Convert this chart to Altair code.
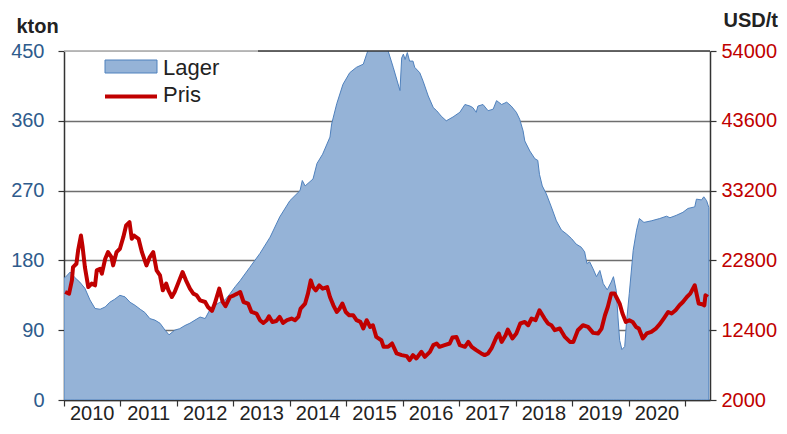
import altair as alt
import pandas as pd

FONT = "Liberation Sans"

# Lager (stock), kton
lager_year = [
    2010.00, 2010.02, 2010.11, 2010.19, 2010.28, 2010.37, 2010.46, 2010.55, 2010.64, 2010.73,
    2010.81, 2010.90, 2010.99, 2011.08, 2011.17, 2011.26, 2011.35, 2011.43, 2011.52, 2011.61,
    2011.70, 2011.79, 2011.86, 2011.96, 2012.05, 2012.14, 2012.23, 2012.32, 2012.41, 2012.50,
    2012.58, 2012.67, 2012.76, 2012.85, 2012.94, 2013.03, 2013.12, 2013.29, 2013.47, 2013.65,
    2013.82, 2014.00, 2014.18, 2014.22, 2014.27, 2014.41, 2014.48, 2014.58, 2014.71, 2014.74,
    2014.83, 2014.94, 2015.06, 2015.18, 2015.30, 2015.36, 2015.39, 2015.56, 2015.74, 2015.83,
    2015.95, 2015.98, 2016.01, 2016.04, 2016.08, 2016.12, 2016.18, 2016.21, 2016.30, 2016.36,
    2016.45, 2016.54, 2016.60, 2016.68, 2016.77, 2016.89, 2017.01, 2017.10, 2017.19, 2017.24,
    2017.30, 2017.33, 2017.42, 2017.51, 2017.60, 2017.66, 2017.75, 2017.84, 2017.92, 2018.01,
    2018.07, 2018.13, 2018.16, 2018.25, 2018.34, 2018.39, 2018.42, 2018.47, 2018.54, 2018.63,
    2018.72, 2018.81, 2018.90, 2018.99, 2019.07, 2019.16, 2019.22, 2019.26, 2019.31, 2019.37,
    2019.43, 2019.49, 2019.55, 2019.62, 2019.69, 2019.73, 2019.78, 2019.81, 2019.84, 2019.88,
    2019.93, 2019.96, 2020.01, 2020.08, 2020.14, 2020.19, 2020.27, 2020.40, 2020.55, 2020.67,
    2020.73, 2020.84, 2020.96, 2021.05, 2021.17, 2021.20, 2021.29, 2021.33, 2021.38, 2021.42,
]
lager_kton = [
    157, 158, 165, 158, 152, 144, 129, 118, 117, 120,
    126, 130, 135, 133, 126, 122, 117, 113, 105, 103,
    99, 90, 84, 90, 92, 96, 99, 103, 107, 105,
    116, 122, 126, 129, 137, 146, 154, 171, 189, 210,
    236, 257, 270, 283, 276, 285, 305, 317, 339, 356,
    382, 407, 422, 429, 433, 446, 452, 462, 450, 429,
    399, 441, 446, 439, 448, 437, 437, 429, 422, 411,
    392, 377, 373, 366, 360, 365, 371, 381, 379, 377,
    371, 379, 381, 373, 375, 386, 381, 384, 379, 371,
    362, 347, 334, 321, 311, 309, 291, 276, 266, 249,
    231, 219, 214, 208, 201, 197, 191, 176, 178, 169,
    159, 167, 150, 142, 152, 159, 141, 107, 77, 65,
    69, 99, 137, 193, 219, 234, 229, 231, 234, 237,
    235, 238, 242, 247, 249, 259, 258, 262, 257, 248,
]

# Pris (price), USD/t
pris_year = [
    2010.02, 2010.09, 2010.14, 2010.16, 2010.22, 2010.25, 2010.30, 2010.33, 2010.37, 2010.43,
    2010.49, 2010.55, 2010.58, 2010.64, 2010.67, 2010.73, 2010.78, 2010.84, 2010.87, 2010.93,
    2010.99, 2011.05, 2011.10, 2011.16, 2011.20, 2011.24, 2011.32, 2011.38, 2011.46, 2011.52,
    2011.58, 2011.64, 2011.70, 2011.75, 2011.81, 2011.85, 2011.91, 2011.96, 2012.02, 2012.10,
    2012.16, 2012.23, 2012.29, 2012.35, 2012.41, 2012.50, 2012.55, 2012.62, 2012.67, 2012.75,
    2012.81, 2012.86, 2012.94, 2013.01, 2013.07, 2013.12, 2013.18, 2013.26, 2013.32, 2013.41,
    2013.47, 2013.53, 2013.59, 2013.63, 2013.69, 2013.76, 2013.82, 2013.88, 2013.95, 2014.03,
    2014.09, 2014.15, 2014.19, 2014.27, 2014.32, 2014.37, 2014.41, 2014.46, 2014.52, 2014.58,
    2014.66, 2014.71, 2014.77, 2014.83, 2014.88, 2014.93, 2014.99, 2015.05, 2015.12, 2015.18,
    2015.25, 2015.30, 2015.36, 2015.42, 2015.47, 2015.53, 2015.62, 2015.66, 2015.74, 2015.81,
    2015.89, 2015.98, 2016.07, 2016.12, 2016.18, 2016.24, 2016.33, 2016.39, 2016.48, 2016.54,
    2016.60, 2016.65, 2016.74, 2016.83, 2016.88, 2016.95, 2017.01, 2017.10, 2017.16, 2017.22,
    2017.30, 2017.39, 2017.45, 2017.51, 2017.57, 2017.66, 2017.70, 2017.75, 2017.82, 2017.86,
    2017.94, 2018.01, 2018.08, 2018.16, 2018.22, 2018.28, 2018.35, 2018.42, 2018.51, 2018.57,
    2018.63, 2018.69, 2018.78, 2018.87, 2018.96, 2019.02, 2019.10, 2019.19, 2019.28, 2019.37,
    2019.46, 2019.52, 2019.58, 2019.63, 2019.69, 2019.75, 2019.78, 2019.84, 2019.89, 2019.95,
    2020.01, 2020.07, 2020.13, 2020.18, 2020.25, 2020.32, 2020.40, 2020.48, 2020.55, 2020.62,
    2020.70, 2020.76, 2020.83, 2020.90, 2020.96, 2021.03, 2021.09, 2021.17, 2021.24, 2021.30,
    2021.34, 2021.36, 2021.40,
]
pris_usd = [
    18090, 17850, 19830, 21800, 22300, 24290, 26510, 24780, 21800, 18830,
    19340, 19090, 21310, 21560, 20820, 23050, 24030, 23290, 22060, 24030,
    24540, 26260, 28000, 28490, 26020, 26510, 26020, 24030, 22060, 23290,
    24030, 21310, 20570, 18340, 19340, 18340, 17350, 18090, 19340, 21060,
    19830, 18590, 17850, 17600, 16860, 16600, 15860, 15270, 16370, 18590,
    16600, 15970, 17350, 17600, 17850, 18090, 16600, 16370, 15120, 14880,
    13890, 13480, 13890, 14480, 13630, 13780, 14380, 13480, 13890, 14140,
    13890, 14380, 15620, 16370, 17850, 19830, 18830, 18340, 19090, 18590,
    18830, 17350, 16110, 15120, 15620, 16370, 15120, 14630, 14630, 13890,
    13630, 12650, 13890, 12890, 13140, 11400, 10910, 9920, 9920, 10420,
    8940, 8690, 8540, 7940, 8690, 8190, 9180, 8430, 9180, 10170,
    10420, 9920, 10170, 10420, 11320, 11400, 10170, 9920, 10660, 9920,
    9430, 8940, 8690, 8940, 9680, 11400, 11910, 10660, 11660, 12500,
    11170, 11910, 13400, 13630, 13140, 14140, 13890, 15370, 14140, 13400,
    13140, 12400, 12650, 11400, 10660, 10660, 12400, 13140, 12890, 12000,
    11910, 12650, 14630, 15860, 17850, 17850, 17350, 16370, 14880, 13630,
    13890, 13630, 12890, 12650, 11170, 11910, 12150, 12650, 13290, 14140,
    15120, 14880, 15370, 16110, 16600, 17350, 17850, 19090, 16370, 16260,
    16110, 17600, 17350,
]

year_ticks = list(range(2010, 2022))
year_labels = list(range(2010, 2021))
kton_ticks = [0, 90, 180, 270, 360, 450]
usd_ticks = [2000, 12400, 22800, 33200, 43600, 54000]
legend_labels = ["Lager", "Pris"]

lager_df = pd.DataFrame({"year": lager_year, "kton": lager_kton})
pris_df = pd.DataFrame({"year": pris_year, "usd": pris_usd})
label_df = pd.DataFrame({"pos": [y + 0.5 for y in year_labels],
                         "label": [str(y) for y in year_labels]})
one = pd.DataFrame({"k": [0]})

x_scale = alt.Scale(domain=[2010, 2021.44], nice=False, zero=False)


def x_axis():
    return alt.Axis(
        values=year_ticks, labels=False,
        tickSize=6, tickColor="#333333", tickWidth=1.2,
        domainColor="#333333", domainWidth=1.5, grid=False, title=None,
    )


area = alt.Chart(lager_df).mark_area(
    fill="#95B3D7", stroke="#4F81BD", strokeWidth=1, clip=True, opacity=1
).encode(
    x=alt.X("year:Q", scale=x_scale, axis=x_axis()),
    y=alt.Y(
        "kton:Q",
        scale=alt.Scale(domain=[0, 450], nice=False, zero=True),
        axis=alt.Axis(
            values=kton_ticks, orient="left", grid=True,
            gridColor=alt.condition("datum.value == 450", alt.value("transparent"), alt.value("#6E6E6E")),
            gridWidth=1.6,
            labelColor="#2E5B8C", labelFontSize=20, labelPadding=14, labelFont=FONT,
            tickSize=6, tickColor="#333333", tickWidth=1.2,
            domainColor="#333333", domainWidth=1.5,
            title="kton", titleAngle=0, titleX=-48, titleY=-19,
            titleAlign="left", titleBaseline="alphabetic",
            titleFontSize=20, titleFontWeight="bold", titleColor="#222222", titleFont=FONT,
        ),
    ),
)

line = alt.Chart(pris_df).mark_line(
    color="#C00000", strokeWidth=4, clip=True, strokeJoin="round"
).encode(
    x=alt.X("year:Q", scale=x_scale, axis=x_axis()),
    y=alt.Y(
        "usd:Q",
        scale=alt.Scale(domain=[2000, 54000], nice=False, zero=False),
        axis=alt.Axis(
            values=usd_ticks, orient="right", grid=False, format="d",
            labelColor="#C00000", labelFontSize=20, labelPadding=5, labelFont=FONT,
            tickSize=6, tickColor="#333333", tickWidth=1.2,
            domainColor="#333333", domainWidth=1.5,
            title="USD/t", titleAngle=0, titleX=13, titleY=-25,
            titleAlign="left", titleBaseline="alphabetic",
            titleFontSize=20, titleFontWeight="bold", titleColor="#222222", titleFont=FONT,
        ),
    ),
)

year_text = alt.Chart(label_df).mark_text(
    align="center", baseline="alphabetic", fontSize=20, font=FONT, color="#222222"
).encode(
    x=alt.X("pos:Q", scale=x_scale, axis=x_axis()),
    y=alt.value(369),
    text="label:N",
)

top_left = alt.Chart(one).mark_rule(color="#A6A6A6", strokeWidth=1.5).encode(
    x=alt.value(0), x2=alt.value(194), y=alt.value(0)
)
top_right = alt.Chart(one).mark_rule(color="#333333", strokeWidth=1.5).encode(
    x=alt.value(194), x2=alt.value(646), y=alt.value(0)
)

leg_rect = alt.Chart(one).mark_rect(fill="#95B3D7", stroke="#4F81BD", strokeWidth=1).encode(
    x=alt.value(41), x2=alt.value(93), y=alt.value(9), y2=alt.value(22)
)
leg_line = alt.Chart(one).mark_rule(color="#C00000", strokeWidth=4).encode(
    x=alt.value(41), x2=alt.value(93), y=alt.value(45.5)
)
leg_t1 = alt.Chart(one).mark_text(
    align="left", baseline="middle", fontSize=22, font=FONT, color="#222222"
).encode(x=alt.value(99), y=alt.value(16.5), text=alt.value(legend_labels[0]))
leg_t2 = alt.Chart(one).mark_text(
    align="left", baseline="middle", fontSize=22, font=FONT, color="#222222"
).encode(x=alt.value(99), y=alt.value(44), text=alt.value(legend_labels[1]))

chart = (
    alt.layer(area, line, year_text, top_left, top_right, leg_rect, leg_line, leg_t1, leg_t2)
    .resolve_scale(y="independent")
    .properties(
        width=646, height=349,
        autosize=alt.AutoSizeParams(type="none"),
        padding={"left": 56, "top": 43, "right": 69, "bottom": 26},
        background="white",
    )
    .configure_view(stroke="transparent", fill="#DCE6F1")
    .configure(font=FONT)
)

chart.save("out.html", embed_options={"renderer": "svg", "actions": False})
